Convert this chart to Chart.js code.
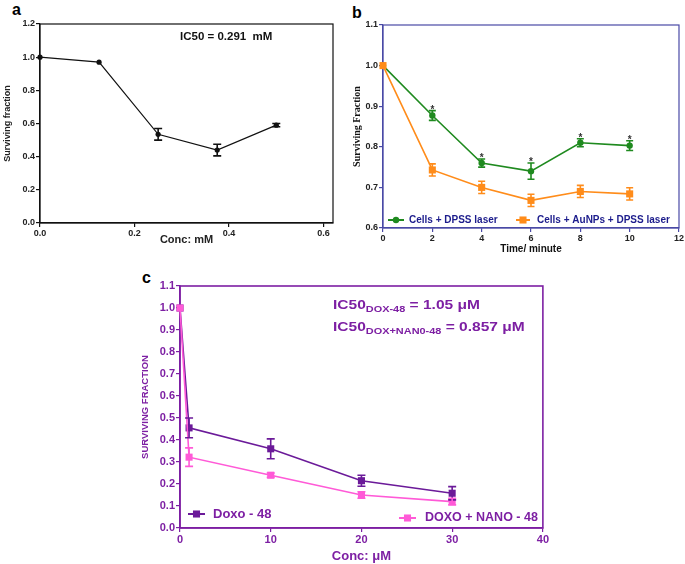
<!DOCTYPE html>
<html>
<head>
<meta charset="utf-8">
<script src="https://cdn.jsdelivr.net/npm/chart.js@4.4.0/dist/chart.umd.min.js"></script>
<style>
  body { margin: 0; background: #fff; width: 685px; height: 564px; position: relative; overflow: hidden; font-family: "Liberation Sans", Arial, sans-serif; }
  canvas { position: absolute; }
  .lbl { position: absolute; font-weight: bold; color: #000; font-size: 16px; line-height: 16px; }
  .ic { position: absolute; font-weight: bold; white-space: nowrap; }
  .ic sub { font-size: 9.5px; vertical-align: -3px; }
</style>
</head>
<body>
<div class="lbl" style="left:12px;top:2px">a</div>
<div class="lbl" style="left:352px;top:5px">b</div>
<div class="lbl" style="left:142px;top:270px">c</div>

<canvas id="chartA" width="340" height="252" style="left:0;top:0"></canvas>
<canvas id="chartB" width="345" height="256" style="left:340px;top:0"></canvas>
<canvas id="chartC" width="420" height="302" style="left:130px;top:262px"></canvas>

<div class="ic" style="left:180px;top:30px;font-size:11.5px;color:#111">IC50 = 0.291&nbsp; mM</div>
<div class="ic" style="left:333px;top:296px;font-size:13.5px;line-height:17.5px;color:#7d1fa3;transform:scaleX(1.15);transform-origin:left top">IC50<sub>DOX-48</sub> = 1.05 μM<br>IC50<sub>DOX+NAN0-48</sub> = 0.857 μM</div>

<script>
// panel a: cytotoxicity vs concentration
const concA = [0, 0.125, 0.25, 0.375, 0.5];
const survA = [1.0, 0.97, 0.535, 0.44, 0.59];
const errA = [0, 0, 0.035, 0.035, 0.01];
const ticksAX = [0, 0.2, 0.4, 0.6];

// panel b: laser exposure time
const timeB = [0, 2, 4, 6, 8, 10];
const laserB = [1.0, 0.877, 0.76, 0.74, 0.81, 0.803];
const laserErrB = [0, 0.012, 0.01, 0.02, 0.01, 0.012];
const auB = [1.0, 0.743, 0.70, 0.668, 0.69, 0.684];
const auErrB = [0, 0.015, 0.015, 0.015, 0.015, 0.015];
const sigB = ['', '*', '*', '*', '*', '*'];

// panel c: doxorubicin
const concC = [0, 1, 10, 20, 30];
const doxoC = [1.0, 0.455, 0.36, 0.215, 0.158];
const doxoErrC = [0, 0.045, 0.045, 0.025, 0.03];
const nanoC = [1.0, 0.322, 0.24, 0.15, 0.12];
const nanoErrC = [0, 0.042, 0.01, 0.015, 0.015];

const FONT = '"Liberation Sans", Arial, sans-serif';

function pts(xs, ys) {
  return xs.map((x, i) => ({ x: x, y: ys[i] }));
}

// box around the plot area
const framePlugin = {
  id: 'frame',
  beforeDatasetsDraw(chart, args, opts) {
    const a = chart.chartArea, ctx = chart.ctx;
    ctx.save();
    ctx.strokeStyle = opts.color;
    ctx.lineWidth = opts.width;
    ctx.strokeRect(a.left, a.top, a.right - a.left, a.bottom - a.top);
    ctx.restore();
  }
};

// error bars + significance marks
const errorPlugin = {
  id: 'errors',
  afterDatasetsDraw(chart) {
    const ctx = chart.ctx, xs = chart.scales.x, ys = chart.scales.y;
    chart.data.datasets.slice().reverse().forEach(ds => {
      if (!ds.errors) return;
      ctx.save();
      ctx.strokeStyle = ds.borderColor;
      ctx.lineWidth = 1.6;
      ds.data.forEach((p, j) => {
        const e = ds.errors[j];
        const px = xs.getPixelForValue(p.x);
        const top = ys.getPixelForValue(p.y + e), bot = ys.getPixelForValue(p.y - e);
        const w = ds.cap;
        if (e) {
          ctx.beginPath();
          ctx.moveTo(px, top); ctx.lineTo(px, bot);
          ctx.moveTo(px - w, top); ctx.lineTo(px + w, top);
          ctx.moveTo(px - w, bot); ctx.lineTo(px + w, bot);
          ctx.stroke();
        }
        if (ds.marks && ds.marks[j]) {
          ctx.fillStyle = '#333';
          ctx.font = 'bold 10px ' + FONT;
          ctx.textAlign = 'center';
          ctx.textBaseline = 'alphabetic';
          ctx.fillText(ds.marks[j], px, top + 2);
        }
      });
      ctx.restore();
    });
  }
};

// legend entries drawn inside the plot
const keyPlugin = {
  id: 'key',
  afterDraw(chart, args, opts) {
    const ctx = chart.ctx;
    opts.items.forEach(it => {
      const ds = chart.data.datasets[it.ds];
      const cx = it.x + it.len / 2, r = ds.pointRadius;
      ctx.save();
      ctx.strokeStyle = ds.borderColor;
      ctx.lineWidth = 2;
      ctx.beginPath();
      ctx.moveTo(it.x, it.y); ctx.lineTo(it.x + it.len, it.y);
      ctx.stroke();
      ctx.fillStyle = ds.pointBackgroundColor;
      ctx.beginPath();
      if (ds.pointStyle === 'rect') {
        const s = r * Math.SQRT1_2;
        ctx.rect(cx - s, it.y - s, 2 * s, 2 * s);
      } else {
        ctx.arc(cx, it.y, r, 0, Math.PI * 2);
      }
      ctx.fill();
      ctx.fillStyle = opts.color;
      ctx.font = 'bold ' + it.size + 'px ' + FONT;
      ctx.textBaseline = 'middle';
      ctx.fillText(ds.label, it.tx, it.y);
      ctx.restore();
    });
  }
};

function axis(cfg) {
  return {
    type: 'linear',
    min: cfg.min,
    max: cfg.max,
    afterFit: cfg.fit,
    afterBuildTicks: cfg.ticksAt ? (s => { s.ticks = cfg.ticksAt.map(v => ({ value: v })); }) : undefined,
    grid: { drawOnChartArea: false, drawTicks: true, tickLength: 4, color: cfg.line, lineWidth: 1.2 },
    border: { display: true, color: cfg.line, width: cfg.bw || 1.2 },
    ticks: {
      stepSize: cfg.step,
      color: cfg.color,
      padding: 1,
      maxRotation: 0,
      font: { family: FONT, size: cfg.size, weight: 'bold' },
      callback: cfg.fmt || (v => v)
    },
    title: {
      display: true,
      text: cfg.title,
      color: cfg.tcolor || cfg.color,
      padding: cfg.tpad,
      font: { family: cfg.tfamily || FONT, size: cfg.tsize, weight: 'bold' }
    }
  };
}

function baseOptions(pad, scales, extra) {
  return {
    responsive: false,
    animation: false,
    layout: { padding: pad },
    scales: scales,
    plugins: Object.assign({ legend: { display: false }, tooltip: { enabled: false } }, extra)
  };
}

// ---- panel a
new Chart(document.getElementById('chartA'), {
  type: 'line',
  data: {
    datasets: [{
      data: pts(concA, survA),
      errors: errA, cap: 4,
      borderColor: '#111', borderWidth: 1.2,
      pointStyle: 'circle', pointRadius: 2.6,
      pointBackgroundColor: '#111', pointBorderWidth: 0,
      tension: 0, clip: false
    }]
  },
  options: baseOptions({ left: 0, top: 24, right: 7, bottom: 0 }, {
    x: axis({ min: 0, max: 0.62, ticksAt: ticksAX, line: '#111', color: '#222', size: 9,
      fmt: v => v.toFixed(1), title: 'Conc: mM', tsize: 11, tpad: { bottom: 5 },
      fit: s => { s.height = 29; } }),
    y: axis({ min: 0, max: 1.2, step: 0.2, line: '#111', color: '#222', size: 9,
      fmt: v => v.toFixed(1), title: 'Surviving fraction', tsize: 9, tpad: { top: 2 },
      fit: s => { s.width = 40; } })
  }, { frame: { color: '#111', width: 1.2 } }),
  plugins: [framePlugin, errorPlugin]
});

// ---- panel b
const BLUE = '#4a4aa6';
new Chart(document.getElementById('chartB'), {
  type: 'line',
  data: {
    datasets: [{
      label: 'Cells + AuNPs + DPSS laser',
      data: pts(timeB, auB),
      errors: auErrB, cap: 3.5,
      borderColor: '#ff8c1a', borderWidth: 1.6,
      pointStyle: 'rect', pointRadius: 5,
      pointBackgroundColor: '#ff8c1a', pointBorderWidth: 0,
      tension: 0, clip: false
    }, {
      label: 'Cells + DPSS laser',
      data: pts(timeB, laserB),
      errors: laserErrB, marks: sigB, cap: 3.5,
      borderColor: '#1f8a1f', borderWidth: 1.6,
      pointStyle: 'circle', pointRadius: 3.2,
      pointBackgroundColor: '#1f8a1f', pointBorderWidth: 0,
      tension: 0, clip: false
    }]
  },
  options: baseOptions({ left: 0, top: 25, right: 5, bottom: 0 }, {
    x: axis({ min: 0, max: 12, step: 2, line: BLUE, color: '#222', size: 9,
      title: 'Time/ minute', tcolor: '#111', tsize: 10, tpad: { bottom: 1 },
      fit: s => { s.height = 28; } }),
    y: axis({ min: 0.6, max: 1.1, step: 0.1, line: BLUE, color: '#222', size: 9,
      fmt: v => v.toFixed(1), title: 'Surviving Fraction', tcolor: '#111', tsize: 10,
      tfamily: '"Liberation Serif", "Times New Roman", serif', tpad: { top: 11 },
      fit: s => { s.width = 43; } })
  }, {
    frame: { color: BLUE, width: 1.2 },
    key: { color: '#1c1c8c', items: [
      { ds: 1, x: 48, y: 220, len: 16, tx: 69, size: 10 },
      { ds: 0, x: 176, y: 220, len: 14, tx: 197, size: 10 }
    ] }
  }),
  plugins: [framePlugin, errorPlugin, keyPlugin]
});

// ---- panel c
const PURPLE = '#7d1fa3';
new Chart(document.getElementById('chartC'), {
  type: 'line',
  data: {
    datasets: [{
      label: 'DOXO + NANO - 48',
      data: pts(concC, nanoC),
      errors: nanoErrC, cap: 4,
      borderColor: '#ff5ad7', borderWidth: 1.6,
      pointStyle: 'rect', pointRadius: 5,
      pointBackgroundColor: '#ff5ad7', pointBorderWidth: 0,
      tension: 0, clip: false
    }, {
      label: 'Doxo - 48',
      data: pts(concC, doxoC),
      errors: doxoErrC, cap: 4,
      borderColor: '#6b1a99', borderWidth: 1.6,
      pointStyle: 'rect', pointRadius: 5,
      pointBackgroundColor: '#6b1a99', pointBorderWidth: 0,
      tension: 0, clip: false
    }]
  },
  options: baseOptions({ left: 0, top: 24, right: 7, bottom: 0 }, {
    x: axis({ min: 0, max: 40, step: 10, line: PURPLE, color: PURPLE, size: 11, bw: 1.6,
      title: 'Conc: μM', tsize: 13, tpad: { bottom: 0 },
      fit: s => { s.height = 36; } }),
    y: axis({ min: 0, max: 1.1, step: 0.1, line: PURPLE, color: PURPLE, size: 11, bw: 1.6,
      fmt: v => v.toFixed(1), title: 'SURVIVING FRACTION', tsize: 9.5, tpad: { top: 10 },
      fit: s => { s.width = 50; } })
  }, {
    frame: { color: PURPLE, width: 1.6 },
    key: { color: PURPLE, items: [
      { ds: 1, x: 58, y: 252, len: 17, tx: 83, size: 13 },
      { ds: 0, x: 269, y: 256, len: 17, tx: 295, size: 12.5 }
    ] }
  }),
  plugins: [framePlugin, errorPlugin, keyPlugin]
});
</script>
</body>
</html>
